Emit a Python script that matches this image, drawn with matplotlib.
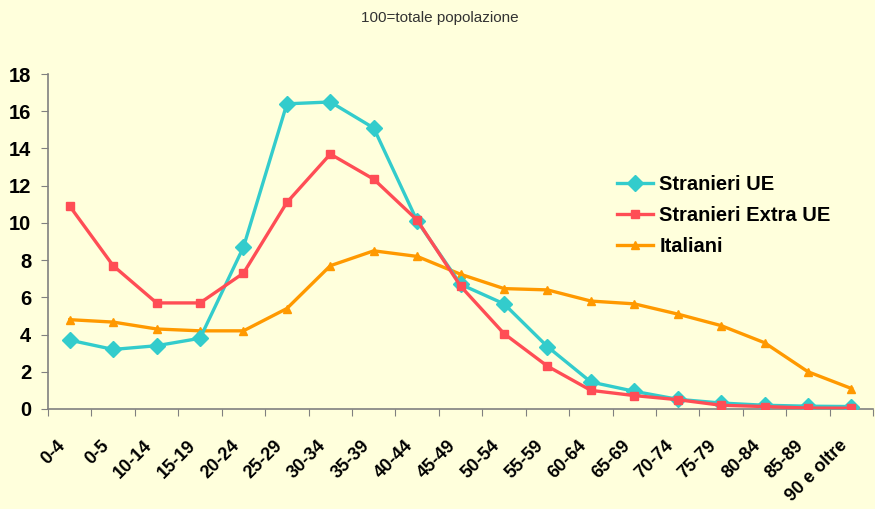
import matplotlib
matplotlib.use('Agg')
import matplotlib.pyplot as plt
import matplotlib.transforms as mtransforms

# Age classes and percentage shares (100 = total population)
classi = ['0-4', '0-5', '10-14', '15-19', '20-24', '25-29', '30-34', '35-39',
          '40-44', '45-49', '50-54', '55-59', '60-64', '65-69', '70-74',
          '75-79', '80-84', '85-89', '90 e oltre']
stranieri_ue = [3.7, 3.2, 3.4, 3.8, 8.7, 16.4, 16.5, 15.1, 10.1, 6.7, 5.65,
                3.35, 1.45, 0.95, 0.52, 0.32, 0.2, 0.15, 0.13]
stranieri_extra_ue = [10.9, 7.7, 5.7, 5.7, 7.3, 11.1, 13.7, 12.35, 10.15, 6.6,
                      4.05, 2.3, 1.0, 0.72, 0.5, 0.2, 0.13, 0.05, 0.04]
italiani = [4.8, 4.67, 4.3, 4.2, 4.2, 5.4, 7.7, 8.5, 8.2, 7.24, 6.47, 6.4,
            5.8, 5.65, 5.1, 4.48, 3.56, 2.0, 1.1]

bg = '#FFFFDC'
plt.rcParams['font.family'] = ['Liberation Sans', 'DejaVu Sans']

fig = plt.figure(figsize=(8.75, 5.09), dpi=100, facecolor=bg)
ax = fig.add_axes([0.0549, 0.1965, 0.943, 0.658], facecolor=bg)

x = list(range(len(classi)))
ax.plot(x, italiani, color='#FF9900', lw=2.4, marker='^', ms=6,
        label='Italiani', zorder=3)
ax.plot(x, stranieri_ue, color='#33CCCC', lw=2.4, marker='D', ms=8.5,
        label='Stranieri UE', zorder=4)
ax.plot(x, stranieri_extra_ue, color='#FF4D55', lw=2.4, marker='s', ms=6,
        label='Stranieri Extra UE', zorder=5)

ax.set_xlim(-0.5, len(classi) - 0.5)
ax.set_ylim(0, 18)
ax.set_yticks(range(0, 19, 2))

# tick marks on category boundaries, labels at category centres
ax.set_xticks([i - 0.5 for i in range(len(classi) + 1)])
ax.set_xticklabels([])
ax.set_xticks(x, minor=True)
ax.set_xticklabels(classi, minor=True, rotation=45, ha='right', va='top',
                   rotation_mode='anchor', fontsize=13, fontweight='bold')
ax.tick_params(axis='x', which='minor', length=0, pad=20)
ax.tick_params(axis='x', which='major', length=5, color='#808080', direction='out')
ax.tick_params(axis='y', length=5, color='#808080', direction='out',
               labelsize=14.5, pad=7)
for lab in ax.get_yticklabels():
    lab.set_fontweight('bold')

offset = mtransforms.ScaledTranslation(-13 / 100, 0, fig.dpi_scale_trans)
for lab in ax.xaxis.get_minorticklabels():
    lab.set_transform(lab.get_transform() + offset)

for s in ['top', 'right']:
    ax.spines[s].set_visible(False)
for s in ['left', 'bottom']:
    ax.spines[s].set_color('#808080')
    ax.spines[s].set_linewidth(1.2)

handles, labels = ax.get_legend_handles_labels()
order = [1, 2, 0]
ax.legend([handles[i] for i in order], [labels[i] for i in order],
          loc='upper left', bbox_to_anchor=(0.705, 0.657),
          bbox_transform=fig.transFigure, frameon=False,
          prop={'size': 14.5, 'weight': 'bold'}, handlelength=1.8,
          handletextpad=0.3, labelspacing=0.6, borderpad=0, borderaxespad=0)

fig.text(0.503, 0.964, '100=totale popolazione', ha='center', va='center',
         fontsize=11, color='#333333')

fig.savefig('out.png', dpi=100, facecolor=bg)
